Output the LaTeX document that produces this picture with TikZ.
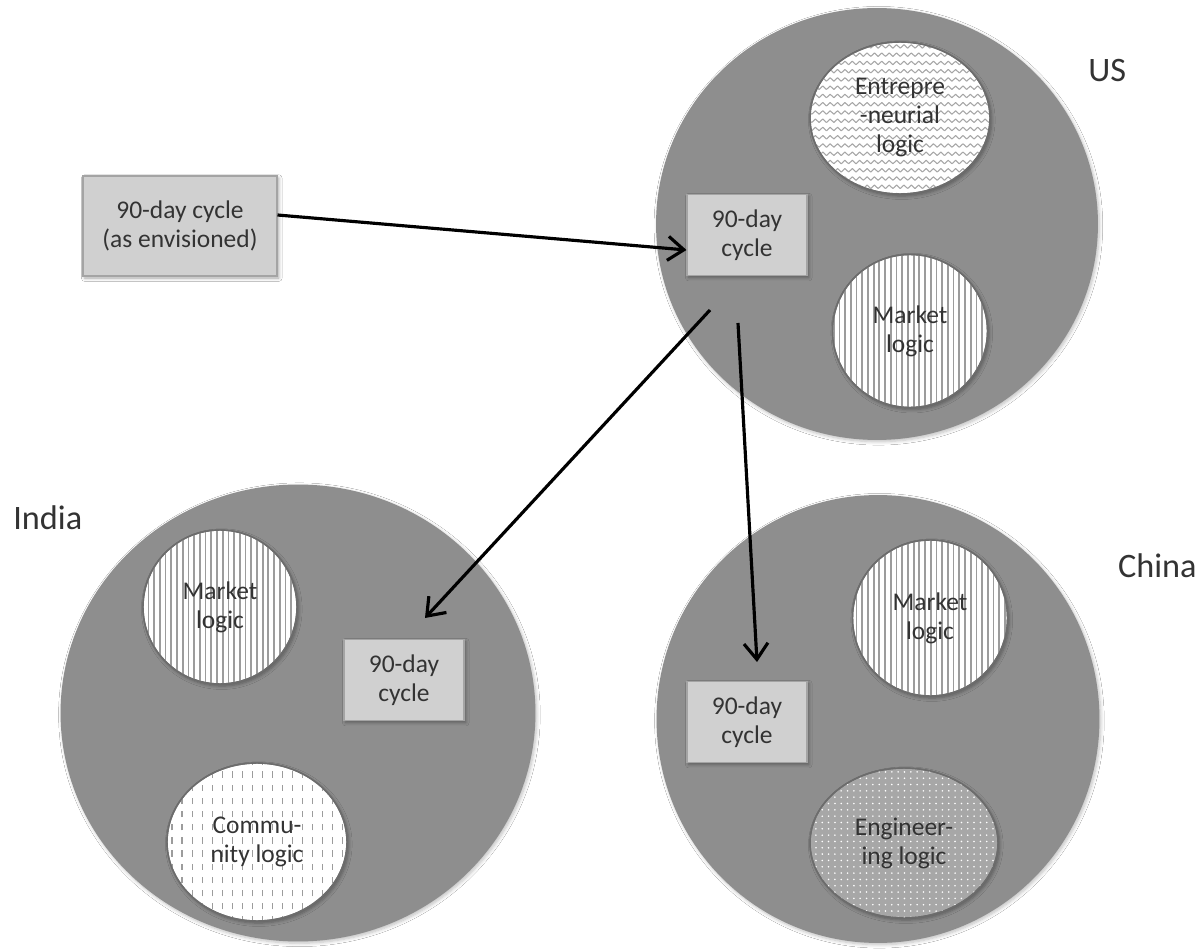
\documentclass[tikz,border=0pt]{standalone}
\usepackage{fontspec}
\setmainfont{Carlito}
\usetikzlibrary{arrows.meta,positioning,shapes.geometric,shadows.blur,patterns,patterns.meta}
\definecolor{mapGround}{HTML}{8E8E8E}
\definecolor{mapBox}{HTML}{D0D0D0}
\definecolor{mapBoxLine}{HTML}{A4A4A4}
\definecolor{mapRing}{HTML}{6C6C6C}
\definecolor{mapHatch}{HTML}{9C9C9C}
\definecolor{mapEng}{HTML}{A7A7A7}
\definecolor{mapInk}{HTML}{333333}
% hand-made fills for the logic balls
\pgfdeclarepatternformonly{zigzagfill}{\pgfqpoint{-0.5pt}{-0.5pt}}{\pgfqpoint{4.7pt}{5.2pt}}{\pgfqpoint{4.2pt}{4.7pt}}{%
  \pgfsetlinewidth{0.6pt}\pgfsetroundjoin
  \pgfpathmoveto{\pgfqpoint{0pt}{0.4pt}}
  \pgfpathlineto{\pgfqpoint{2.1pt}{2.4pt}}
  \pgfpathlineto{\pgfqpoint{4.2pt}{0.4pt}}
  \pgfusepath{stroke}}
\pgfdeclarepatternformonly{dashcols}{\pgfqpoint{-0.5pt}{-0.5pt}}{\pgfqpoint{6.2pt}{8pt}}{\pgfqpoint{5.7pt}{7.5pt}}{%
  \pgfsetlinewidth{0.6pt}
  \pgfpathmoveto{\pgfqpoint{1pt}{0pt}}
  \pgfpathlineto{\pgfqpoint{1pt}{3.6pt}}
  \pgfusepath{stroke}}
\newcommand{\boxfont}{\fontsize{14.5}{16.5}\selectfont}
\tikzset{
  >={Straight Barb[length=3.2mm,width=4.8mm]},
  region/.style={ellipse, fill=mapGround, draw=none,
              blur shadow={shadow xshift=0.8pt, shadow yshift=-1pt, shadow opacity=25, shadow blur steps=6}},
  cyclebox/.style={rectangle, fill=mapBox, draw=mapBoxLine, line width=0.6pt,
              minimum width=2.4cm, minimum height=1.62cm, align=center, font=\boxfont, text=mapInk,
              blur shadow={shadow xshift=1pt, shadow yshift=-1.2pt, shadow opacity=35, shadow blur steps=5}},
  logicball/.style={ellipse, draw=mapRing, line width=0.8pt, inner sep=0pt,
              align=center, font=\boxfont, text=mapInk,
              blur shadow={shadow xshift=1pt, shadow yshift=-1.2pt, shadow opacity=35, shadow blur steps=5}},
  market/.style={fill=white,
              postaction={pattern={Lines[angle=90,distance=3.25pt,line width=1pt]}, pattern color=mapHatch},
              postaction={draw=mapRing, line width=0.8pt}},
  entre/.style={fill=white,
              postaction={pattern=zigzagfill, pattern color=mapHatch!90},
              postaction={draw=mapRing, line width=0.8pt}},
  community/.style={fill=white,
              postaction={pattern=dashcols, pattern color=mapHatch},
              postaction={draw=mapRing, line width=0.8pt}},
  engineering/.style={fill=mapEng,
              postaction={pattern={Dots[distance=3.6pt,radius=0.5pt]}, pattern color=white},
              postaction={draw=mapRing, line width=0.8pt}},
  country/.style={font=\fontsize{19.5}{22}\selectfont, text=mapInk, inner sep=0pt},
  flow/.style={->, draw=black, line width=1.8pt},
}

\begin{document}
\begin{tikzpicture}[x=0.02cm, y=-0.02cm]
  \fill[white] (0,0) rectangle (1201,949);
  \useasboundingbox (0,0) rectangle (1201,949);

  % the three settings
  \node[region, minimum width=8.84cm, minimum height=8.64cm] (us) at (877,224) {};
  \node[region, minimum width=9.5cm, minimum height=9.14cm] (india) at (298,713) {};
  \node[region, minimum width=8.86cm, minimum height=8.96cm] (china) at (878,719) {};

  \node[country, anchor=west] (uslbl) at (1088,71) {US};
  \node[country, anchor=west] (indialbl) at (13,518) {India};
  \node[country, anchor=east] (chinalbl) at (1197,566) {China};

  % logics present in each setting
  \node[logicball, entre, minimum width=3.6cm, minimum height=3.04cm] (usentre) at (900,118) {Entrepre\\-neurial\\logic};
  \node[logicball, market, minimum width=3.1cm, minimum height=3.06cm] (usmarket) at (910,331) {Market\\logic};
  \node[logicball, market, minimum width=3.08cm, minimum height=3.08cm] (indiamarket) at (220,607) {Market\\logic};
  \node[logicball, community, minimum width=3.6cm, minimum height=3.16cm] (indiacomm) at (257,842) {Commu-\\nity logic};
  \node[logicball, market, minimum width=3.1cm, minimum height=3.12cm] (chinamarket) at (930,618) {Market\\logic};
  \node[logicball, engineering, minimum width=3.76cm, minimum height=3.0cm] (chinaeng) at (904,843) {Engineer-\\ing logic};

  % the practice and where it travels
  \node[cyclebox, minimum width=3.88cm, minimum height=2.0cm] (envisioned) at (180,226) {90-day cycle\\(as envisioned)};
  \foreach \n/\x/\y in {us/747/235, india/404/680, china/747/722}{
    \node[cyclebox] (\n cycle) at (\x,\y) {90-day\\cycle};
  }

  \coordinate (usout) at (710,310);
  \coordinate (indiain) at (425,618);
  \coordinate (usdown) at (738,323);
  \coordinate (chinain) at (757,662);
  \draw[flow] ([yshift=0.22cm]envisioned.east) -- ([yshift=-0.3cm]uscycle.west);
  \draw[flow] (usout) -- (indiain);
  \draw[flow] (usdown) -- (chinain);
\end{tikzpicture}
\end{document}
